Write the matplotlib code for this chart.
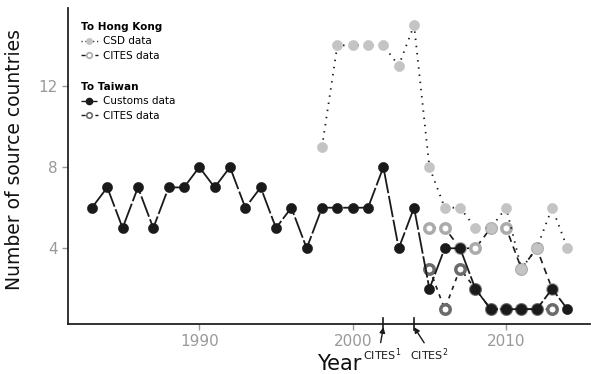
import matplotlib
matplotlib.use("Agg")
import matplotlib.pyplot as plt
from matplotlib.lines import Line2D
import matplotlib.transforms as mtrans

# ---- data ----
tw_customs_years = list(range(1983, 2015))
tw_customs_vals = [6, 7, 5, 7, 5, 7, 7, 8, 7, 8, 6, 7, 5, 6, 4, 6,
                   6, 6, 6, 8, 4, 6, 2, 4, 4, 2, 1, 1, 1, 1, 2, 1]

hk_csd_years = list(range(1998, 2015))
hk_csd_vals = [9, 14, 14, 14, 14, 13, 15, 8, 6, 6, 5, 5, 6, 3, 4, 6, 4]

hk_cites_years = list(range(2005, 2014))
hk_cites_vals = [5, 5, 4, 4, 5, 5, 3, 4, 2]

tw_cites_years = list(range(2005, 2014))
tw_cites_vals = [3, 1, 3, 2, 1, 1, 1, 1, 1]

x_ticks = [1990, 2000, 2010]
y_ticks = [4, 8, 12]
cites_events = [2002, 2004]
cites_labels = ["CITES$^{1}$", "CITES$^{2}$"]

plt.rcParams['font.family'] = ['DejaVu Sans']

fig = plt.figure(figsize=(5.92, 3.74), dpi=100)
ax = fig.add_axes([68/592, 50/374, 522/592, 316/374])

c_black = "#1a1a1a"
c_csd = "#c4c4c4"
c_hkcites = "#ababab"
c_twcites = "#6b6b6b"

# HK CITES (bottom layer)
ax.plot(hk_cites_years, hk_cites_vals, color=c_black, lw=1.2,
        dashes=(4, 3), marker='o', ms=6.8, mfc='white', mec=c_hkcites,
        mew=2.5, zorder=2)
# Taiwan CITES
ax.plot(tw_cites_years, tw_cites_vals, color=c_black, lw=1.2,
        dashes=(2.5, 3), marker='o', ms=6.8, mfc='white', mec=c_twcites,
        mew=2.5, zorder=3)
# HK CSD
ax.plot(hk_csd_years, hk_csd_vals, color=c_black, lw=1.3,
        dashes=(0.8, 3.2), marker='o', ms=7.3, mfc=c_csd, mec=c_csd,
        mew=0.4, zorder=4)
# Taiwan customs
ax.plot(tw_customs_years, tw_customs_vals, color=c_black, lw=1.3,
        dashes=(12, 1.5), marker='o', ms=7.3, mfc=c_black, mec=c_black,
        mew=0.4, zorder=5)

ax.set_xlim(1981.44, 2015.47)
ax.set_ylim(0.27, 15.84)
ax.set_xticks(x_ticks)
ax.set_yticks(y_ticks)
for s in ['top', 'right']:
    ax.spines[s].set_visible(False)
for s in ['left', 'bottom']:
    ax.spines[s].set_linewidth(1.3)
    ax.spines[s].set_color("#222222")
ax.tick_params(axis='both', colors="#999999", labelsize=11, length=4,
               width=1, labelcolor="#999999")
ax.tick_params(axis='x', pad=3)

ax.set_ylabel("Number of source countries", fontsize=13.5, color="#111111")
ax.yaxis.set_label_coords(-0.085, 0.52)
ax.set_xlabel("Year", fontsize=15, color="#111111")
ax.xaxis.set_label_coords(0.52, -0.096)

# CITES event ticks and arrows
trans = mtrans.blended_transform_factory(ax.transData, ax.transAxes)
for yr in cites_events:
    ax.plot([yr, yr], [-0.02, 0.02], transform=trans, color=c_black,
            lw=1.2, clip_on=False, zorder=6)
ax.annotate(cites_labels[0], xy=(cites_events[0], -0.01), xycoords=trans,
            xytext=(cites_events[0] - 0.1, -0.072), textcoords=trans,
            ha='center', va='top', fontsize=8, color=c_black,
            arrowprops=dict(arrowstyle='-|>', color=c_black, lw=1.0,
                            mutation_scale=8, shrinkA=1, shrinkB=0,
                            relpos=(0.45, 1.0)))
ax.annotate(cites_labels[1], xy=(cites_events[1], -0.01), xycoords=trans,
            xytext=(cites_events[1] + 0.95, -0.072), textcoords=trans,
            ha='center', va='top', fontsize=8, color=c_black,
            arrowprops=dict(arrowstyle='-|>', color=c_black, lw=1.0,
                            mutation_scale=8, shrinkA=1, shrinkB=0,
                            relpos=(0.45, 1.0)))

# legends
h_csd = Line2D([], [], color=c_black, lw=1.0, dashes=(0.8, 2),
               marker='o', ms=4, mfc=c_csd, mec=c_csd)
h_hkc = Line2D([], [], color=c_black, lw=1.0, dashes=(3, 2),
               marker='o', ms=4, mfc='white', mec=c_hkcites, mew=1.2)
h_cus = Line2D([], [], color=c_black, lw=1.0, dashes=(5, 1.5),
               marker='o', ms=4.5, mfc=c_black, mec=c_black)
h_twc = Line2D([], [], color=c_black, lw=1.0, dashes=(3, 2),
               marker='o', ms=4, mfc='white', mec=c_twcites, mew=1.2)

common = dict(loc='upper left', frameon=False, fontsize=7.5,
              title_fontproperties={'weight': 'bold', 'size': 7.5},
              handlelength=1.6, handletextpad=0.5, labelspacing=0.4,
              borderpad=0, borderaxespad=0, alignment='left')
leg1 = ax.legend([h_csd, h_hkc], ["CSD data", "CITES data"],
                 title="To Hong Kong", bbox_to_anchor=(0.025, 0.955), **common)
ax.add_artist(leg1)
leg2 = ax.legend([h_cus, h_twc], ["Customs data", "CITES data"],
                 title="To Taiwan", bbox_to_anchor=(0.025, 0.765), **common)

fig.savefig("out.png", dpi=100)
